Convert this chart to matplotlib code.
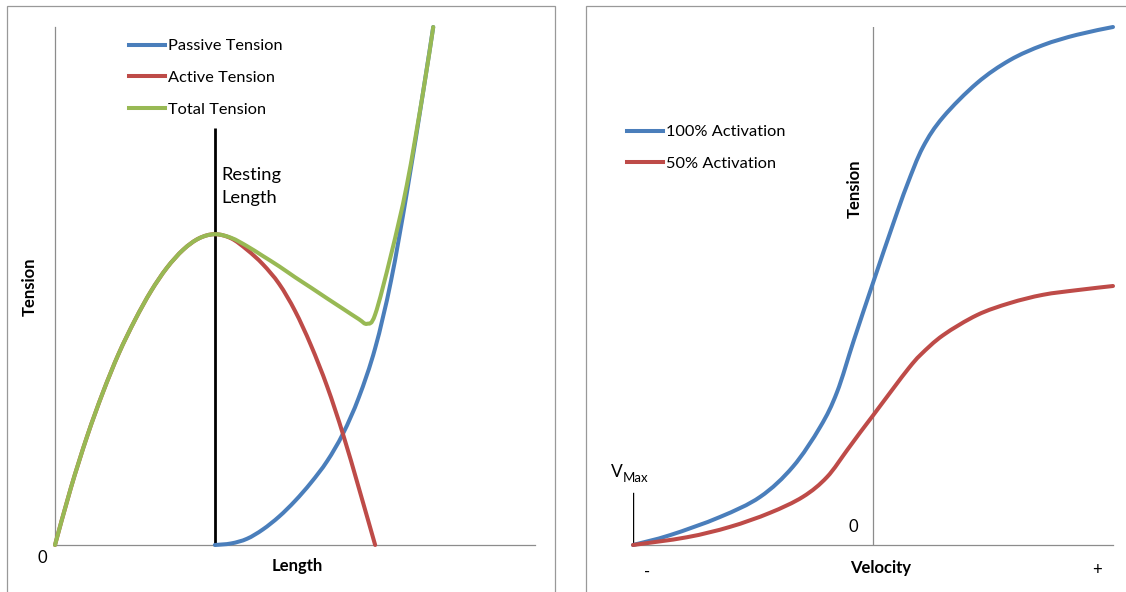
import matplotlib
matplotlib.use("Agg")
import matplotlib.pyplot as plt
from matplotlib.patches import Rectangle, PathPatch
from matplotlib.path import Path
from matplotlib.lines import Line2D

# ---------------- data ----------------
# Left panel: length-tension
active_x = [0, 0.33, 0.67, 1.0, 1.33, 1.67, 2.0, 2.33, 2.67, 3.0, 3.33,
            3.67, 4.0, 4.33, 4.67, 5.0, 5.33, 5.67, 6.0, 6.33, 6.67]
active_y = [0, 1.1, 2.1, 2.95, 3.7, 4.35, 4.9, 5.35, 5.7, 5.92, 6.0,
            5.92, 5.7, 5.42, 5.04, 4.52, 3.86, 3.06, 2.14, 1.1, 0]

passive_x = [3.33, 3.67, 4.0, 4.33, 4.67, 5.0, 5.33, 5.67, 6.0, 6.33,
             6.67, 7.0, 7.33, 7.67, 7.88]
passive_y = [0, 0.03, 0.12, 0.3, 0.55, 0.85, 1.2, 1.62, 2.15, 2.85,
             3.8, 5.1, 6.8, 8.75, 10.0]

total_x = [0, 0.33, 0.67, 1.0, 1.33, 1.67, 2.0, 2.33, 2.67, 3.0, 3.33,
           3.67, 4.0, 4.33, 4.67, 5.0, 5.33, 5.67, 6.0, 6.33, 6.5,
           6.67, 7.0, 7.33, 7.67, 7.88]
total_y = [0, 1.1, 2.1, 2.95, 3.7, 4.35, 4.9, 5.35, 5.7, 5.92, 6.0,
           5.93, 5.77, 5.58, 5.38, 5.17, 4.97, 4.76, 4.56, 4.36, 4.27,
           4.45, 5.6, 6.95, 8.75, 10.0]

resting_length = 3.33
resting_top = 8.05

# Right panel: force-velocity
vel_x_100 = [0, 0.77, 1.81, 2.65, 3.33, 3.90, 4.25, 4.6, 5.0, 5.42,
             5.71, 6.04, 6.46, 7.17, 7.85, 8.54, 9.25, 10.0]
act_100 = [0, 0.19, 0.54, 0.93, 1.51, 2.28, 2.95, 3.95, 5.06, 6.2,
           6.95, 7.68, 8.26, 8.92, 9.36, 9.65, 9.85, 10.0]

vel_x_50 = [0, 1.125, 2.02, 2.85, 3.54, 4.04, 4.46, 4.73, 5.0, 5.42, 5.75,
            6.0, 6.46, 7.17, 7.85, 8.54, 9.25, 10.0]
act_50 = [0, 0.15, 0.35, 0.62, 0.93, 1.31, 1.83, 2.17, 2.5, 3.02, 3.42,
          3.68, 4.05, 4.44, 4.67, 4.83, 4.92, 5.0]

vmax_marker = 1.0
zero_velocity = 5.0

left_labels = ["Passive Tension", "Active Tension", "Total Tension"]
right_labels = ["100% Activation", "50% Activation"]

BLUE = "#4a7ebb"
RED = "#be4b48"
GREEN = "#98b954"
GRAY = "#8c8c8c"

# ---------------- figure ----------------
plt.rcParams['font.family'] = ['Lato', 'DejaVu Sans']
W, H = 1126, 592
fig = plt.figure(figsize=(W / 100, H / 100), dpi=100)
fig.patch.set_facecolor("white")


def fx(px):
    return px / W


def fy(py):
    return 1 - py / H


def smooth_line(ax, xs, ys, color, lw, z):
    """Draw a smoothed (Excel-style) line through the data points
    using cubic Bezier segments in data coordinates."""
    n = len(xs)
    verts = [(xs[0], ys[0])]
    codes = [Path.MOVETO]
    for i in range(n - 1):
        i0 = max(i - 1, 0)
        i3 = min(i + 2, n - 1)
        c1 = (xs[i] + (xs[i + 1] - xs[i0]) / 6.0,
              ys[i] + (ys[i + 1] - ys[i0]) / 6.0)
        c2 = (xs[i + 1] - (xs[i3] - xs[i]) / 6.0,
              ys[i + 1] - (ys[i3] - ys[i]) / 6.0)
        verts += [c1, c2, (xs[i + 1], ys[i + 1])]
        codes += [Path.CURVE4] * 3
    patch = PathPatch(Path(verts, codes), fill=False, ec=color, lw=lw,
                      zorder=z, capstyle="round", joinstyle="round",
                      clip_on=False)
    ax.add_patch(patch)
    return Line2D([], [], color=color, lw=lw)


# panel frames
for x0, x1 in [(7, 555), (586, 1140)]:
    fig.patches.append(Rectangle((fx(x0), fy(610)), (x1 - x0) / W, (610 - 6) / H,
                                 transform=fig.transFigure, fill=False,
                                 ec="#999999", lw=0.9))

LW = 2.9

# ---------------- left axes ----------------
ax1 = fig.add_axes([fx(55), fy(545), 480 / W, 518 / H])
ax1.set_xlim(0, 10)
ax1.set_ylim(0, 10)
for s in ["top", "right"]:
    ax1.spines[s].set_visible(False)
for s in ["left", "bottom"]:
    ax1.spines[s].set_color(GRAY)
    ax1.spines[s].set_linewidth(0.9)
ax1.set_xticks([])
ax1.set_yticks([])
ax1.patch.set_alpha(0)

ax1.plot([resting_length, resting_length], [0, resting_top], color="black",
         lw=2.0, zorder=2, solid_capstyle="butt")
l1 = smooth_line(ax1, passive_x, passive_y, BLUE, LW, 3)
l2 = smooth_line(ax1, active_x, active_y, RED, LW, 4)
l3 = smooth_line(ax1, total_x, total_y, GREEN, LW, 5)

ax1.legend([l1, l2, l3], left_labels, loc="upper left",
           bbox_to_anchor=(fx(129), fy(39)), bbox_transform=fig.transFigure,
           frameon=False, borderpad=0, borderaxespad=0, handlelength=2.2,
           handletextpad=0.2, labelspacing=1.05, fontsize=11.8)

fig.text(fx(221), fy(175), "Resting", fontsize=13.2, ha="left", va="center")
fig.text(fx(221), fy(198), "Length", fontsize=13.2, ha="left", va="center")
fig.text(fx(30), fy(287), "Tension", fontsize=12, fontweight="bold",
         rotation=90, ha="center", va="center")
fig.text(fx(297), fy(566), "Length", fontsize=12, fontweight="bold",
         ha="center", va="center")
fig.text(fx(42), fy(558), "0", fontsize=12, ha="center", va="center")

# ---------------- right axes ----------------
ax2 = fig.add_axes([fx(633), fy(545), 480 / W, 518 / H])
ax2.set_xlim(0, 10)
ax2.set_ylim(0, 10)
for s in ["top", "right", "left"]:
    ax2.spines[s].set_visible(False)
ax2.spines["bottom"].set_color(GRAY)
ax2.spines["bottom"].set_linewidth(0.9)
ax2.set_xticks([])
ax2.set_yticks([])
ax2.patch.set_alpha(0)

ax2.plot([zero_velocity, zero_velocity], [0, 10], color=GRAY, lw=0.9, zorder=1)
ax2.plot([0, 0], [0, vmax_marker], color="black", lw=1.0, zorder=1)
r1 = smooth_line(ax2, vel_x_100, act_100, BLUE, LW, 3)
r2 = smooth_line(ax2, vel_x_50, act_50, RED, LW, 4)

ax2.legend([r1, r2], right_labels, loc="upper left",
           bbox_to_anchor=(fx(627), fy(125)), bbox_transform=fig.transFigure,
           frameon=False, borderpad=0, borderaxespad=0, handlelength=2.2,
           handletextpad=0.2, labelspacing=1.05, fontsize=11.8)

fig.text(fx(855), fy(189), "Tension", fontsize=12, fontweight="bold",
         rotation=90, ha="center", va="center")
fig.text(fx(881), fy(568), "Velocity", fontsize=12, fontweight="bold",
         ha="center", va="center")
fig.text(fx(647), fy(572), "-", fontsize=12, ha="center", va="center")
fig.text(fx(1097), fy(570), "+", fontsize=12, ha="center", va="center")
fig.text(fx(853), fy(527), "0", fontsize=12, ha="center", va="center")
fig.text(fx(611), fy(472), "V", fontsize=12.5, ha="left", va="center")
fig.text(fx(623), fy(478), "Max", fontsize=9.5, ha="left", va="center")

fig.savefig("out.png", dpi=100)
